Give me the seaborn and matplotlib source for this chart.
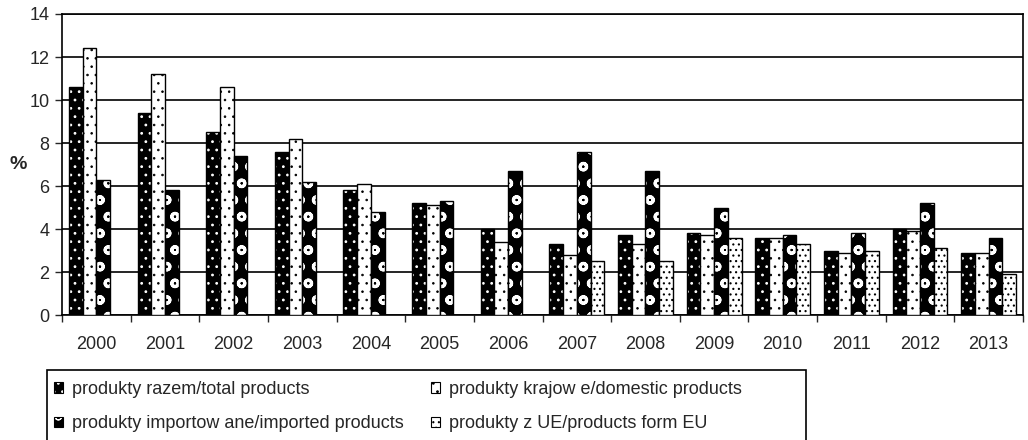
import numpy as np
import pandas as pd
import matplotlib
matplotlib.use("Agg")
import matplotlib.pyplot as plt
import seaborn as sns
from matplotlib.patches import Patch, Rectangle
from matplotlib.colors import to_rgba

# Yearly shares (%) for four product groups
years = [str(y) for y in range(2000, 2014)]
total = [10.6, 9.4, 8.5, 7.6, 5.8, 5.2, 4.0, 3.3, 3.7, 3.8, 3.6, 3.0, 4.0, 2.9]
domestic = [12.4, 11.2, 10.6, 8.2, 6.1, 5.1, 3.4, 2.8, 3.3, 3.7, 3.6, 2.9, 3.9, 2.9]
imported = [6.3, 5.8, 7.4, 6.2, 4.8, 5.3, 6.7, 7.6, 6.7, 5.0, 3.7, 3.8, 5.2, 3.6]
eu = [np.nan] * 7 + [2.5, 2.5, 3.6, 3.3, 3.0, 3.1, 1.9]

series_labels = [
    "produkty razem/total products",
    "produkty krajow e/domestic products",
    "produkty importow ane/imported products",
    "produkty z UE/products form EU",
]
y_ticks = [0, 2, 4, 6, 8, 10, 12, 14]

df = pd.DataFrame({
    "year": years * 4,
    "value": total + domestic + imported + eu,
    "series": np.repeat(series_labels, len(years)),
})

# face colour, hatch, hatch colour, hatch line width per series
styles = [
    ("black", "..", "white", 0.8),
    ("white", "..", "black", 0.6),
    ("black", "o", "white", 2.2),
    ("white", "...", "black", 0.8),
]


def apply_style(p, fc, hatch, hc, hlw):
    p.set_facecolor(fc)
    p.set_edgecolor("black")
    p.set_hatch(hatch)
    p._hatch_color = to_rgba(hc)
    if hasattr(p, "set_hatch_linewidth"):
        p.set_hatch_linewidth(hlw)
    else:
        p._hatch_linewidth = hlw


sns.set_style("white")
plt.rcParams["font.family"] = ["Liberation Sans", "DejaVu Sans"]
plt.rcParams["hatch.linewidth"] = 0.8

fig = plt.figure(figsize=(10.28, 4.40), dpi=100)
ax = fig.add_axes([62 / 1028, 1 - 315 / 440, (1023 - 62) / 1028, (315 - 14) / 440])

sns.barplot(data=df, x="year", y="value", hue="series", hue_order=series_labels,
            order=years, width=0.8, gap=0, errorbar=None, legend=False,
            linewidth=1, edgecolor="black", ax=ax, zorder=3)

for cont, st in zip(ax.containers, styles):
    for p in cont.patches:
        apply_style(p, *st)

ax.set_ylim(0, 14)
ax.set_yticks(y_ticks)
ax.set_xlim(-0.5, len(years) - 0.5)
ax.grid(axis="y", color="black", linewidth=1.2, zorder=0)
ax.set_axisbelow(True)
for s in ax.spines.values():
    s.set_visible(True)
    s.set_color("black")
    s.set_linewidth(1.2)

ax.set_xlabel("")
ax.set_ylabel("%", rotation=0, fontsize=14, fontweight="bold", ha="center", va="center")
ax.yaxis.set_label_coords(-0.046, 0.5)
ax.tick_params(axis="y", which="major", direction="out", length=5, width=1,
               labelsize=13, pad=4, left=True)
ax.tick_params(axis="x", which="major", length=0, labelsize=13, pad=15)
ax.set_xticks(np.arange(-0.5, len(years), 1.0), minor=True)
ax.tick_params(axis="x", which="minor", direction="out", length=5, width=1, bottom=True)

# legend: two rows, filled column by column
handles = []
for st in styles:
    h = Patch(linewidth=0.8)
    apply_style(h, *st)
    handles.append(h)
order = [0, 2, 1, 3]
leg = fig.legend([handles[i] for i in order], [series_labels[i] for i in order],
                 loc="upper left", ncol=2, bbox_to_anchor=(54 / 1028, 1 - 381 / 440),
                 frameon=False, fontsize=13,
                 handlelength=0.5, handleheight=0.5, handletextpad=0.5,
                 columnspacing=1.5, labelspacing=0.95, borderpad=0,
                 borderaxespad=0)
fig.add_artist(Rectangle((47 / 1028, -0.05), (806 - 47) / 1028, 0.05 + (440 - 370) / 440,
                         transform=fig.transFigure, facecolor="none",
                         edgecolor="black", linewidth=1.2))

fig.savefig("out.png", dpi=100)
